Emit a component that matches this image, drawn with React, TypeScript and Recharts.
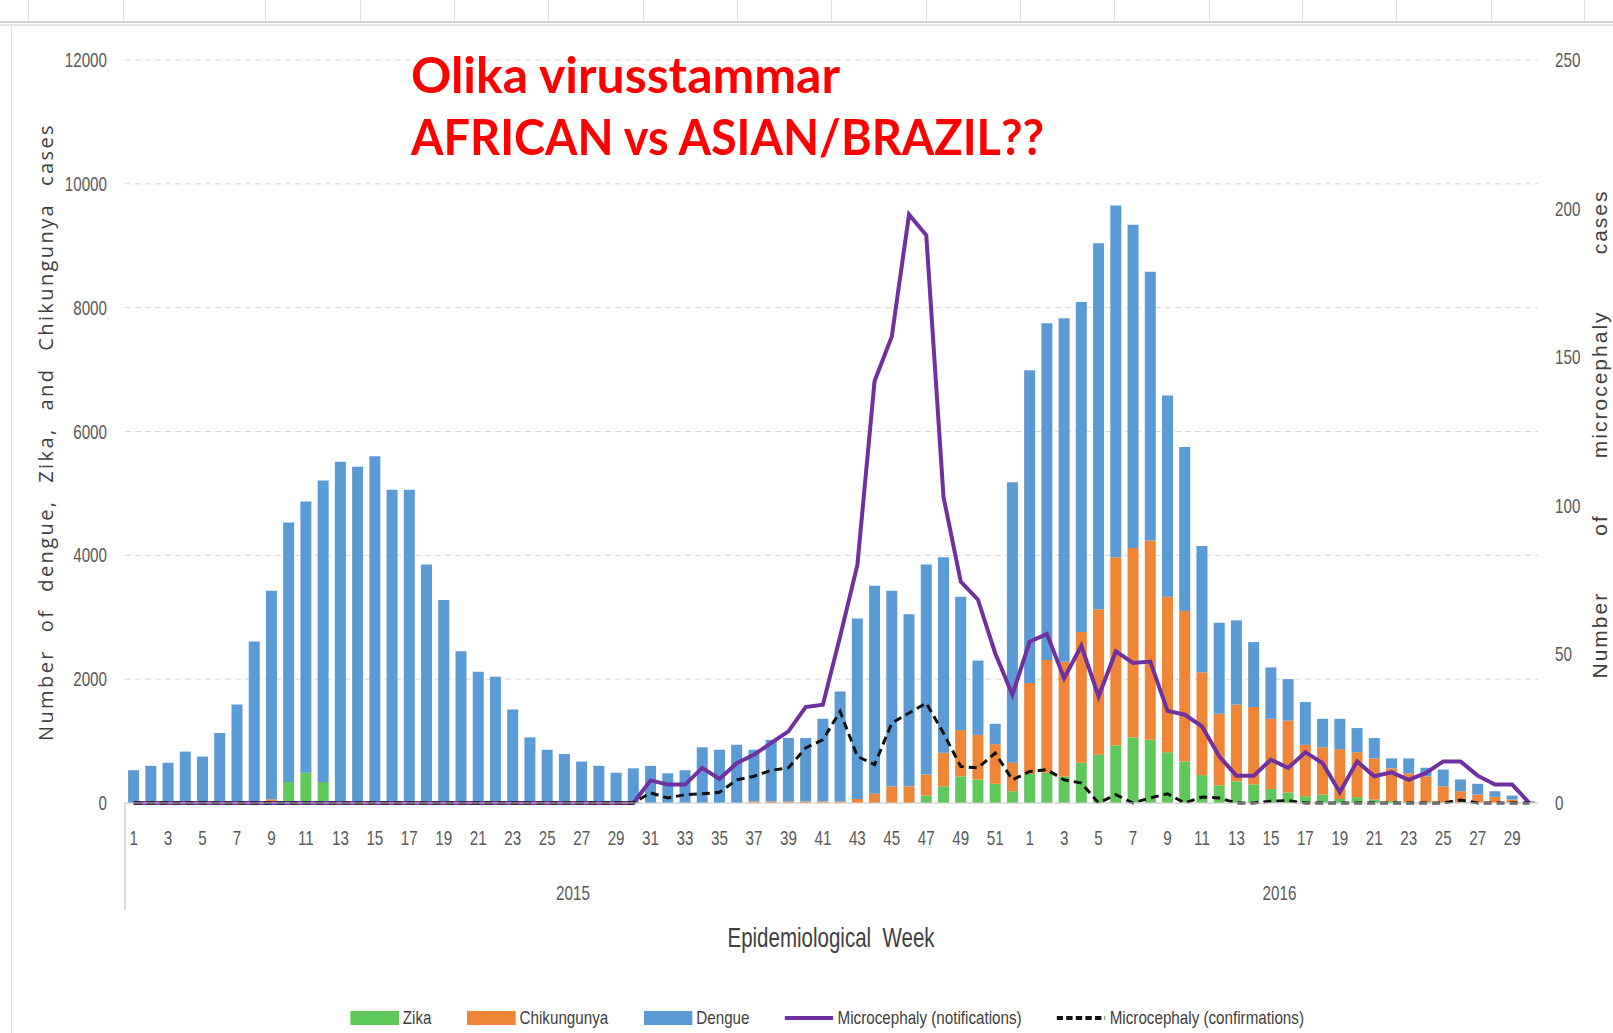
import { useLayoutEffect, useRef } from "react";
import {
  ComposedChart,
  Bar,
  Line,
  XAxis,
  YAxis,
  CartesianGrid,
  Legend,
} from "recharts";

// epidemiological weeks: 2015 (1-52) then 2016 (1-30)
const weeks2015 = Array.from({ length: 52 }, (_, i) => i + 1);
const weeks2016 = Array.from({ length: 30 }, (_, i) => i + 1);

// stacked bar segments (cases)
const zika2015 = [
  0, 0, 0, 0, 0, 0, 0, 0, 0, 340, 490, 340, 0, 0, 0, 0, 0, 0, 0, 0, 0, 0, 0, 0,
  0, 0, 0, 0, 0, 0, 0, 0, 0, 0, 0, 0, 0, 0, 0, 0, 0, 0, 0, 0, 0, 0, 120, 270,
  430, 380, 310, 190,
];
const zika2016 = [
  470, 490, 430, 650, 780, 930, 1060, 1020, 820, 670, 450, 285, 350, 300, 225,
  170, 110, 135, 65, 95, 55, 30, 20, 15, 10, 10, 5, 5, 0, 0,
];
const chik2015 = [
  0, 0, 0, 0, 0, 0, 0, 0, 60, 0, 0, 0, 0, 0, 0, 0, 0, 0, 0, 0, 0, 0, 0, 0, 0,
  0, 0, 0, 0, 0, 0, 0, 0, 0, 0, 0, 25, 25, 25, 25, 25, 25, 65, 150, 270, 270,
  340, 540, 750, 720, 640, 460,
];
const chik2016 = [
  1470, 1820, 1850, 2110, 2350, 3040, 3060, 3220, 2510, 2430, 1660, 1155, 1240,
  1250, 1135, 1160, 830, 765, 805, 725, 665, 530, 460, 415, 260, 180, 130, 95,
  55, 15,
];
const dengue2015 = [
  530, 600, 650, 830, 750, 1130, 1590, 2610, 3370, 4190, 4380, 4870, 5510, 5430,
  5600, 5060, 5060, 3850, 3280, 2450, 2120, 2040, 1510, 1060, 860, 790, 670,
  600, 490, 560, 600, 480, 530, 900, 860, 940, 835, 995, 1025, 1025, 1335,
  1775, 2915, 3360, 3160, 2780, 3390, 3160, 2150, 1200, 330, 4530,
];
const dengue2016 = [
  5050, 5440, 5550, 5330, 5910, 5680, 5220, 4340, 3250, 2650, 2040, 1470, 1360,
  1050, 830, 670, 690, 460, 490, 390, 330, 160, 240, 140, 270, 190, 175, 90, 65,
  15,
];

// microcephaly (right axis)
const notif2015 = [
  0, 0, 0, 0, 0, 0, 0, 0, 0, 0, 0, 0, 0, 0, 0, 0, 0, 0, 0, 0, 0, 0, 0, 0, 0, 0,
  0, 0, 0, 0, 7.6, 6.2, 6.2, 11.8, 8.1, 13.4, 16.2, 20.2, 24.1, 32.3, 33.1, 56,
  80, 142, 157, 198, 191, 103, 74.5, 68.4, 50.4, 36.4,
];
const notif2016 = [
  54.3, 56.9, 42, 52.9, 35.9, 51, 47.1, 47.6, 31, 29.7, 25.8, 15.7, 9.2, 9.2,
  14.6, 11.8, 17.1, 13.4, 3.6, 14, 9, 10.3, 7.8, 10.1, 14, 14, 9.2, 6.2, 6.2, 0,
];
const conf2015 = [
  0, 0, 0, 0, 0, 0, 0, 0, 0, 0, 0, 0, 0, 0, 0, 0, 0, 0, 0, 0, 0, 0, 0, 0, 0, 0,
  0, 0, 0, 0, 3.4, 1.7, 2.8, 3.1, 3.6, 7.8, 9, 11, 11.8, 18.5, 21.3, 30.8, 15.7,
  12.9, 26.9, 30.3, 33.6, 23.5, 12.3, 11.8, 16.8, 7.8,
];
const conf2016 = [
  10.6, 11.2, 7.8, 6.7, 0, 2.8, 0, 1.7, 3.1, 0, 2, 1.7, 0, 0, 0.6, 0.8, 0, 0, 0,
  0, 0, 0, 0, 0, 0, 1, 0, 0, 0, 0,
];

const leftTicks = [0, 2000, 4000, 6000, 8000, 10000, 12000];
const rightTicks = [0, 50, 100, 150, 200, 250];
const years = [
  { label: "2015", weeks: weeks2015.length },
  { label: "2016", weeks: weeks2016.length },
];
const legendOrder = ["zika", "chik", "dengue", "notif", "conf"];

const ZIKA = "#5ec85a";
const CHIK = "#ef8637";
const DENGUE = "#5b9bd5";
const NOTIF = "#7030a0";
const CONF = "#111111";
const SANS = '"Liberation Sans", Arial, sans-serif';
const SQUEEZE = 0.76; // fake a narrow (Calibri-like) face
const TICK_COLOR = "#595959";

const weeks = [...weeks2015, ...weeks2016];
const data = weeks.map((w, i) => ({
  week: String(w),
  pos: i + 0.5,
  zika: [...zika2015, ...zika2016][i],
  chik: [...chik2015, ...chik2016][i],
  dengue: [...dengue2015, ...dengue2016][i],
  notif: [...notif2015, ...notif2016][i],
  conf: [...conf2015, ...conf2016][i],
}));

// separators at year boundaries, labels at year centres
const boundaries = [0, years[0].weeks, years[0].weeks + years[1].weeks];
const centers = [years[0].weeks / 2, years[0].weeks + years[1].weeks / 2];

function NarrowText({ x, y, anchor = "middle", size = 20, color = TICK_COLOR, children }: any) {
  return (
    <g transform={`translate(${x},${y}) scale(${SQUEEZE},1)`}>
      <text x={0} y={0} textAnchor={anchor} fontSize={size} fill={color} fontFamily={SANS}>
        {children}
      </text>
    </g>
  );
}

function WeekTick({ x, y, payload }: any) {
  return (
    <NarrowText x={x} y={y + 13}>
      {payload.value}
    </NarrowText>
  );
}

function LeftTick({ x, y, payload }: any) {
  return (
    <NarrowText x={x} y={y + 7} anchor="end">
      {payload.value}
    </NarrowText>
  );
}

function RightTick({ x, y, payload }: any) {
  return (
    <NarrowText x={x} y={y + 7} anchor="start">
      {payload.value}
    </NarrowText>
  );
}

function YearTick({ x, y, payload }: any) {
  const v = payload.value;
  if (boundaries.includes(v)) {
    return <line x1={x} x2={x} y1={y - 50} y2={y + 57} stroke="#d0d0d0" strokeWidth={1.5} />;
  }
  const idx = centers.indexOf(v);
  if (idx < 0) return null;
  return (
    <NarrowText x={x} y={y + 47}>
      {years[idx].label}
    </NarrowText>
  );
}

function ChartLegend(props: any) {
  const payload = [...(props.payload || [])].sort(
    (a: any, b: any) => legendOrder.indexOf(a.dataKey) - legendOrder.indexOf(b.dataKey)
  );
  return (
    <div
      style={{
        display: "flex",
        justifyContent: "center",
        alignItems: "center",
        gap: 44,
        paddingLeft: 41,
        fontFamily: SANS,
        fontSize: 19,
        color: "#404040",
        transform: "scaleX(0.8)",
        transformOrigin: "827px 50%",
      }}
    >
      {payload.map((p: any) => (
        <div key={p.value} style={{ display: "flex", alignItems: "center" }}>
          <svg width={61} height={16} style={{ marginRight: 5 }}>
            {p.type === "rect" ? (
              <rect x={0} y={1} width={61} height={14} fill={p.color} />
            ) : (
              <line
                x1={0}
                x2={61}
                y1={8}
                y2={8}
                stroke={p.color}
                strokeWidth={4}
                strokeDasharray={p.dataKey === "conf" ? "8 4" : undefined}
              />
            )}
          </svg>
          <span>{p.value}</span>
        </div>
      ))}
    </div>
  );
}

// rotated axis title whose word gaps are widened to span a given length
function SpacedTitle({ x, y, length, text, family, size, letter }: any) {
  const ref = useRef<SVGTextElement>(null);
  useLayoutEffect(() => {
    const el = ref.current;
    if (!el) return;
    el.style.wordSpacing = "0px";
    const natural = el.getComputedTextLength();
    const gaps = text.split(" ").length - 1;
    el.style.wordSpacing = `${Math.max(0, (length - natural) / gaps)}px`;
  }, [length, text]);
  return (
    <text
      ref={ref}
      x={x}
      y={y}
      transform={`rotate(-90 ${x} ${y})`}
      textAnchor="middle"
      dy="0.35em"
      fontFamily={family}
      fontSize={size}
      fill="#404040"
      style={{ letterSpacing: letter }}
    >
      {text}
    </text>
  );
}

const headerLines = [28, 123, 265, 360, 454, 548, 643, 737, 831, 926, 1020, 1114, 1209, 1302, 1396, 1491, 1584];

export default function App() {
  return (
    <div
      style={{
        position: "absolute",
        left: 0,
        top: 0,
        width: 1613,
        height: 1033,
        background: "#fff",
        overflow: "hidden",
      }}
    >
      {headerLines.map((x) => (
        <div key={x} style={{ position: "absolute", left: x, top: 0, width: 1, height: 21, background: "#e2e2e2" }} />
      ))}
      <div style={{ position: "absolute", left: 0, top: 21, width: 1613, height: 2, background: "#d0d0d0" }} />
      <div style={{ position: "absolute", left: 0, top: 24, width: 1613, height: 2, background: "#e4e4e4" }} />
      <div style={{ position: "absolute", left: 11, top: 26, width: 1, height: 1007, background: "#e4e4e4" }} />

      <div style={{ position: "absolute", left: 0, top: 0 }}>
        <ComposedChart
          width={1613}
          height={1033}
          data={data}
          margin={{ top: 60, right: 0, bottom: 123, left: 0 }}
          barCategoryGap="18%"
        >
          <CartesianGrid
            vertical={false}
            yAxisId="left"
            stroke="#d6d6d6"
            strokeDasharray="6 4"
          />
          <XAxis
            dataKey="week"
            interval={1}
            height={50}
            axisLine={{ stroke: "#d0d0d0" }}
            tickLine={false}
            tickMargin={23}
            tick={<WeekTick />}
          />
          <XAxis
            xAxisId="year"
            type="number"
            dataKey="pos"
            domain={[0, weeks.length]}
            allowDataOverflow
            ticks={[...boundaries, ...centers]}
            height={57}
            axisLine={false}
            tickLine={false}
            tickSize={0}
            tickMargin={0}
            tick={<YearTick />}
          />
          <YAxis
            yAxisId="left"
            width={125}
            domain={[0, 12000]}
            ticks={leftTicks}
            axisLine={false}
            tickLine={false}
            tickMargin={12}
            tick={<LeftTick />}
          />
          <YAxis
            yAxisId="right"
            orientation="right"
            width={75}
            domain={[0, 250]}
            ticks={rightTicks}
            axisLine={false}
            tickLine={false}
            tickMargin={11}
            tick={<RightTick />}
          />
          <Bar dataKey="zika" name="Zika" stackId="a" yAxisId="left" fill={ZIKA} isAnimationActive={false} />
          <Bar dataKey="chik" name="Chikungunya" stackId="a" yAxisId="left" fill={CHIK} isAnimationActive={false} />
          <Bar dataKey="dengue" name="Dengue" stackId="a" yAxisId="left" fill={DENGUE} isAnimationActive={false} />
          <Line
            dataKey="notif"
            name="Microcephaly (notifications)"
            yAxisId="right"
            type="linear"
            stroke={NOTIF}
            strokeWidth={4}
            dot={false}
            legendType="line"
            isAnimationActive={false}
          />
          <Line
            dataKey="conf"
            name="Microcephaly (confirmations)"
            yAxisId="right"
            type="linear"
            stroke={CONF}
            strokeWidth={3}
            strokeDasharray="8 5"
            dot={false}
            legendType="line"
            isAnimationActive={false}
          />
          <Legend
            verticalAlign="middle"
            align="center"
            content={<ChartLegend />}
            wrapperStyle={{ top: 1007, left: 0, width: 1613 }}
          />
        </ComposedChart>
      </div>

      <svg
        width={1613}
        height={1033}
        style={{ position: "absolute", left: 0, top: 0, pointerEvents: "none" }}
      >
        <text
          x={411}
          y={93}
          fontFamily="Lato, 'Open Sans', sans-serif"
          fontWeight={700}
          fontSize={50}
          fill="#ff0000"
          textLength={429}
          lengthAdjust="spacingAndGlyphs"
        >
          Olika virusstammar
        </text>
        <text
          x={411}
          y={155}
          fontFamily="Lato, 'Open Sans', sans-serif"
          fontWeight={700}
          fontSize={50}
          fill="#ff0000"
          textLength={633}
          lengthAdjust="spacingAndGlyphs"
        >
          AFRICAN vs ASIAN/BRAZIL??
        </text>
        <NarrowText x={831} y={947} size={27} color="#404040">
          Epidemiological{"\u00a0\u00a0"}Week
        </NarrowText>
        <SpacedTitle
          x={46}
          y={432}
          length={618}
          text="Number of dengue, Zika, and Chikungunya cases"
          family="'Open Sans', sans-serif"
          size={20}
          letter={2.4}
        />
        <SpacedTitle
          x={1600}
          y={434}
          length={489}
          text="Number of microcephaly cases"
          family="'Liberation Sans', Arial, sans-serif"
          size={21}
          letter={2}
        />
      </svg>
    </div>
  );
}
